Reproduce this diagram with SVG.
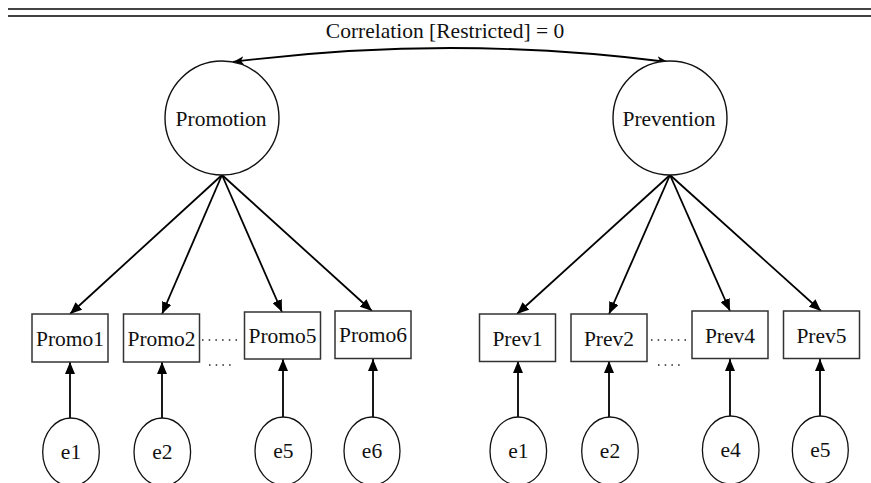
<svg xmlns="http://www.w3.org/2000/svg" width="871" height="483" viewBox="0 0 871 483">
<defs>
<style>
text{font-family:"Liberation Serif","Times New Roman",serif;font-size:21.5px;fill:#111;text-anchor:middle}
.box{fill:#fff;stroke:#333;stroke-width:1.5}
.lat{fill:#fff;stroke:#111;stroke-width:1.4}
.err{fill:#fff;stroke:#111;stroke-width:1.3}
.arr{stroke:#000;stroke-width:1.8;fill:none;marker-end:url(#ah)}
.dot{stroke:#222;stroke-width:1.5;stroke-dasharray:1.5 5.2;fill:none}
</style>
<marker id="ah" viewBox="0 0 12 10" refX="12" refY="5" markerWidth="12" markerHeight="10" markerUnits="userSpaceOnUse" orient="auto">
<path d="M0,0 L12,5 L0,10 z" fill="#000"/>
</marker>
<marker id="sh" viewBox="0 0 11 9" refX="11" refY="4.5" markerWidth="11" markerHeight="9" markerUnits="userSpaceOnUse" orient="auto-start-reverse">
<path d="M0,0 L11,4.5 L0,9 L3,4.5 z" fill="#000"/>
</marker>
</defs>
<rect width="871" height="483" fill="#fff"/>
<g id="rules">
<line x1="8" y1="9" x2="871" y2="9" stroke="#444" stroke-width="2"/>
<line x1="8" y1="16" x2="871" y2="16" stroke="#000" stroke-width="1.6"/>
</g>
<g id="connectors">
<path d="M233,62 Q450,34 668,62" fill="none" stroke="#000" stroke-width="1.8" marker-start="url(#sh)" marker-end="url(#sh)"/>
<line class="arr" x1="222" y1="175" x2="70" y2="314"/>
<line class="arr" x1="222" y1="175" x2="162" y2="314"/>
<line class="arr" x1="222" y1="175" x2="282" y2="312"/>
<line class="arr" x1="222" y1="175" x2="372" y2="311"/>
<line class="arr" x1="670" y1="175" x2="517" y2="314"/>
<line class="arr" x1="670" y1="175" x2="609" y2="314"/>
<line class="arr" x1="670" y1="175" x2="730" y2="311"/>
<line class="arr" x1="670" y1="175" x2="821" y2="311"/>
<line class="arr" x1="70" y1="418" x2="70" y2="362"/>
<line class="arr" x1="162" y1="418" x2="162" y2="362"/>
<line class="arr" x1="283" y1="417" x2="283" y2="359"/>
<line class="arr" x1="373" y1="417" x2="373" y2="359"/>
<line class="arr" x1="518" y1="417" x2="518" y2="361"/>
<line class="arr" x1="609" y1="417" x2="609" y2="361"/>
<line class="arr" x1="730" y1="416" x2="730" y2="359"/>
<line class="arr" x1="820" y1="416" x2="820" y2="359"/>
<line class="dot" x1="202" y1="340" x2="242" y2="340"/>
<line class="dot" x1="209" y1="365" x2="234" y2="365"/>
<line class="dot" x1="651" y1="340" x2="690" y2="340"/>
<line class="dot" x1="658" y1="365" x2="683" y2="365"/>
</g>
<text x="445" y="38">Correlation [Restricted] = 0</text>
<g id="promotion"><circle class="lat" cx="222" cy="118" r="57"/><text x="221" y="126">Promotion</text></g>
<g id="prevention"><circle class="lat" cx="670" cy="118" r="57"/><text x="669" y="126">Prevention</text></g>
<g id="promo1"><rect class="box" x="32" y="314" width="76" height="48"/><text x="70" y="346">Promo1</text></g>
<g id="promo2"><rect class="box" x="123.5" y="314" width="76" height="48"/><text x="161.5" y="346">Promo2</text></g>
<g id="promo5"><rect class="box" x="244.5" y="312" width="76" height="47"/><text x="282.5" y="343">Promo5</text></g>
<g id="promo6"><rect class="box" x="335" y="311" width="76" height="47.5"/><text x="373" y="342">Promo6</text></g>
<g id="prev1"><rect class="box" x="479.5" y="314" width="76" height="47.5"/><text x="517.5" y="346">Prev1</text></g>
<g id="prev2"><rect class="box" x="571" y="314" width="76" height="47.5"/><text x="609" y="346">Prev2</text></g>
<g id="prev4"><rect class="box" x="692" y="311" width="76" height="47.5"/><text x="730" y="343">Prev4</text></g>
<g id="prev5"><rect class="box" x="783.5" y="311" width="76" height="47.5"/><text x="821.5" y="343">Prev5</text></g>
<g id="e1a"><ellipse class="err" cx="71" cy="452" rx="28.3" ry="34"/><text x="71" y="459">e1</text></g>
<g id="e2a"><ellipse class="err" cx="162.3" cy="452" rx="28.3" ry="34"/><text x="162.3" y="459">e2</text></g>
<g id="e5a"><ellipse class="err" cx="283.3" cy="451" rx="28.3" ry="34"/><text x="283.3" y="458">e5</text></g>
<g id="e6a"><ellipse class="err" cx="372" cy="451" rx="28" ry="34"/><text x="372" y="458">e6</text></g>
<g id="e1b"><ellipse class="err" cx="518.3" cy="451" rx="28.3" ry="34"/><text x="518.3" y="458">e1</text></g>
<g id="e2b"><ellipse class="err" cx="610" cy="451" rx="28.3" ry="34"/><text x="610" y="458">e2</text></g>
<g id="e4b"><ellipse class="err" cx="730.7" cy="450" rx="28.3" ry="34"/><text x="730.7" y="457">e4</text></g>
<g id="e5b"><ellipse class="err" cx="820.3" cy="450" rx="28" ry="34"/><text x="820.3" y="457">e5</text></g>
</svg>
